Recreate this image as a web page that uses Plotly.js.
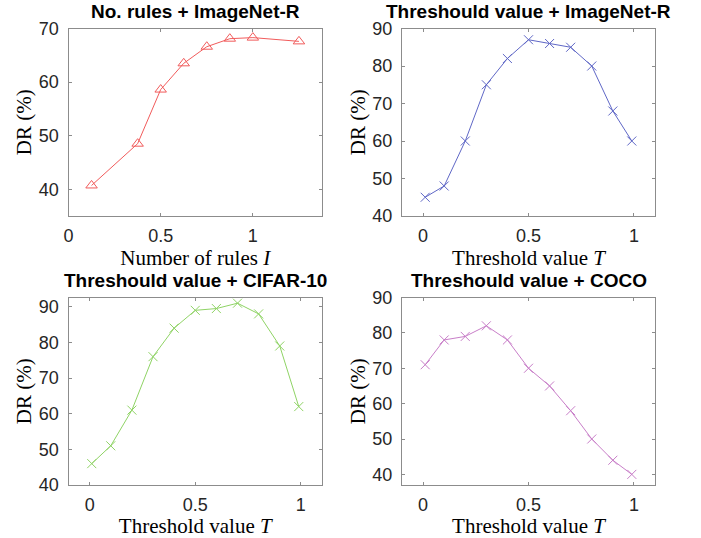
<!DOCTYPE html>
<html>
<head>
<meta charset="utf-8">
<script src="https://cdn.plot.ly/plotly-3.0.1.min.js"></script>
<style>html,body{margin:0;padding:0;background:#fff;}#chart{width:701px;height:538px;}</style>
</head>
<body>
<div id="chart"></div>
<script>
// Panel 1: number of rules
const rulesX = [0.125, 0.375, 0.5, 0.625, 0.75, 0.875, 1.0, 1.25];
const rulesDR = [40.7, 48.5, 58.6, 63.5, 66.6, 68.1, 68.3, 67.6];
// Threshold values (shared by panels 2-4)
const thresholdT = [0.01, 0.1, 0.2, 0.3, 0.4, 0.5, 0.6, 0.7, 0.8, 0.9, 0.99];
const imagenetDR = [45, 48, 60, 75, 82, 87, 86, 85, 80, 68, 60];
const cifarDR = [46, 51, 61, 76, 84, 89, 89.5, 91, 88, 79, 62];
const cocoDR = [71, 78, 79, 82, 78, 70, 65, 58, 50, 44, 40];
const panelTitles = ['No. rules + ImageNet-R', 'Threshould value + ImageNet-R', 'Threshould value + CIFAR-10', 'Threshould value + COCO'];
const xTitles = ['Number of rules <i>I</i>', 'Threshold value <i>T</i>', 'Threshold value <i>T</i>', 'Threshold value <i>T</i>'];
const yTitle = 'DR (%)';
const xTicks = [0, 0.5, 1];

const W = 701, H = 538;
const colX = [[68.5, 322], [402, 655]];
const rowY = [[28.5, 216], [297.5, 485]];
const xd = c => [colX[c][0] / W, colX[c][1] / W];
const yd = r => [1 - rowY[r][1] / H, 1 - rowY[r][0] / H];

const colors = ['#f15b5b', '#5f67c6', '#8fd365', '#c87ec8'];
const traces = [
  {x: rulesX, y: rulesDR, xaxis: 'x', yaxis: 'y', mode: 'lines+markers', type: 'scatter',
   line: {color: colors[0], width: 1}, marker: {symbol: 'triangle-up-open', size: 10, color: colors[0], line: {width: 1}}},
  {x: thresholdT, y: imagenetDR, xaxis: 'x2', yaxis: 'y2', mode: 'lines+markers', type: 'scatter',
   line: {color: colors[1], width: 1}, marker: {symbol: 'x-thin-open', size: 9, color: colors[1], line: {width: 1, color: colors[1]}}},
  {x: thresholdT, y: cifarDR, xaxis: 'x3', yaxis: 'y3', mode: 'lines+markers', type: 'scatter',
   line: {color: colors[2], width: 1}, marker: {symbol: 'x-thin-open', size: 9, color: colors[2], line: {width: 1, color: colors[2]}}},
  {x: thresholdT, y: cocoDR, xaxis: 'x4', yaxis: 'y4', mode: 'lines+markers', type: 'scatter',
   line: {color: colors[3], width: 1}, marker: {symbol: 'x-thin-open', size: 9, color: colors[3], line: {width: 1, color: colors[3]}}}
];

const tickFont = {family: 'Liberation Sans, Arial, sans-serif', size: 18, color: '#262626'};
const axTitleFont = {family: 'Liberation Serif, Times New Roman, serif', size: 21, color: '#000'};
function xaxis(c, r, range, i) {
  return {domain: xd(c), anchor: 'y' + (i === 1 ? '' : i), range: range, tickvals: xTicks, ticktext: ['0', '0.5', '1'],
    showgrid: false, zeroline: false, showline: true, linecolor: '#8c8c8c', linewidth: 1, mirror: 'ticks',
    ticks: 'inside', ticklen: 3, tickcolor: '#8c8c8c', tickfont: tickFont, ticklabelstandoff: 3,
    title: {text: xTitles[i - 1], font: axTitleFont, standoff: 3}};
}
function yaxis(c, r, range, i) {
  return {domain: yd(r), anchor: 'x' + (i === 1 ? '' : i), range: range, dtick: 10, tick0: 0,
    showgrid: false, zeroline: false, showline: true, linecolor: '#8c8c8c', linewidth: 1, mirror: 'ticks',
    ticks: 'inside', ticklen: 3, tickcolor: '#8c8c8c', tickfont: tickFont, ticklabelstandoff: 5,
    title: {text: yTitle, font: axTitleFont, standoff: 1}};
}
const annotations = panelTitles.map((t, i) => {
  const c = i % 2, r = Math.floor(i / 2);
  return {text: '<b>' + t + '</b>', xref: 'paper', yref: 'paper', x: (xd(c)[0] + xd(c)[1]) / 2, y: yd(r)[1],
    xanchor: 'center', yanchor: 'bottom', showarrow: false, yshift: 5,
    font: {family: 'Liberation Sans, Arial, sans-serif', size: 19, color: '#000'}};
});
const layout = {
  width: W, height: H, margin: {l: 0, r: 0, t: 0, b: 0}, showlegend: false,
  paper_bgcolor: '#fff', plot_bgcolor: '#fff',
  xaxis: xaxis(0, 0, [0, 1.375], 1), yaxis: yaxis(0, 0, [35, 70], 1),
  xaxis2: xaxis(1, 0, [-0.1, 1.1], 2), yaxis2: yaxis(1, 0, [40, 90], 2),
  xaxis3: xaxis(0, 1, [-0.1, 1.1], 3), yaxis3: yaxis(0, 1, [40, 92.6], 3),
  xaxis4: xaxis(1, 1, [-0.1, 1.1], 4), yaxis4: yaxis(1, 1, [37, 90], 4),
  annotations: annotations
};
Plotly.newPlot('chart', traces, layout, {displayModeBar: false, staticPlot: true});
</script>
</body>
</html>
